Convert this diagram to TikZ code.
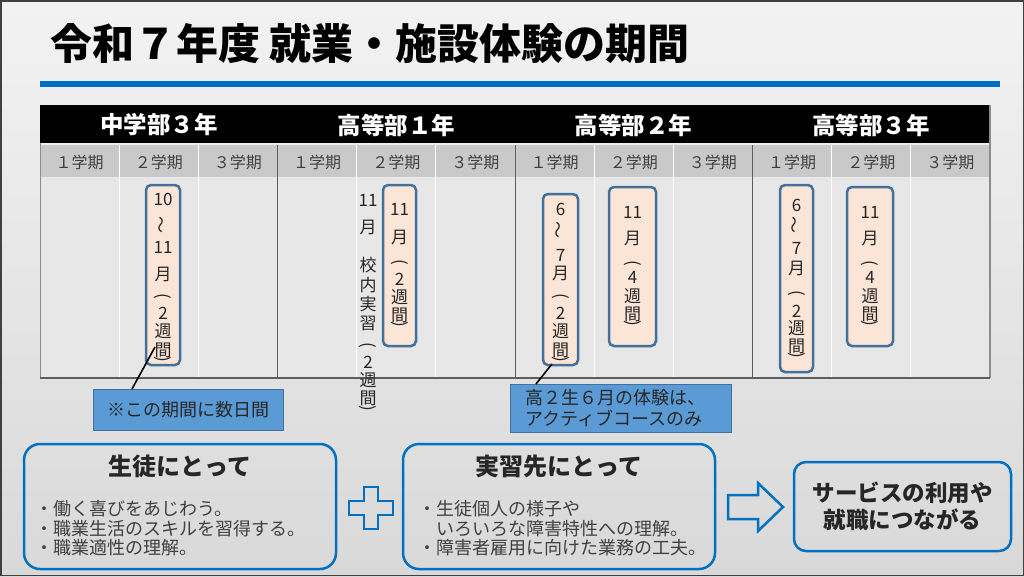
\documentclass[tikz,border=0pt]{standalone}
\usepackage{fontspec}
\setmainfont{Noto Sans CJK JP}
\definecolor{bluemain}{HTML}{0070C0}
\definecolor{boxedge}{HTML}{41719C}
\definecolor{boxfill}{HTML}{FBE5D6}
\definecolor{notefill}{HTML}{5B9BD5}
\definecolor{txt}{HTML}{262626}
\definecolor{semtxt}{HTML}{404040}
\definecolor{semfill}{HTML}{C9C9C9}
\definecolor{bodyfill}{HTML}{E7E7E7}
\definecolor{yearline}{HTML}{5E5E5E}
\definecolor{edgegray}{HTML}{8C8C8C}
\newcommand\vlp{\rotatebox[origin=c]{-90}{(}}
\newcommand\vrp{\rotatebox[origin=c]{-90}{)}}
\newcommand\vwv{\rotatebox[origin=c]{90}{～}}
\newcommand\vstack[3]{\foreach \yy/\cc [count=\k] in {#3}{\node[vch] (#1-\k) at (#2,\yy) {\cc};}}
\begin{document}
\begin{tikzpicture}[x=1pt,y=-1pt,
  vch/.style={inner sep=0pt, text=txt, font=\fontsize{17}{17}\selectfont},
  vbox/.style={draw=boxedge, line width=2.5pt, fill=boxfill, rounded corners=5pt, inner sep=0pt},
  yearlbl/.style={text=white, font=\fontsize{23.5}{23.5}\selectfont\bfseries, inner sep=0pt},
  semlbl/.style={text=semtxt, font=\fontsize{16}{16}\selectfont, inner sep=0pt},
  notebox/.style={draw=boxedge, line width=0.6pt, fill=notefill, inner sep=0pt},
  notetxt/.style={text=txt, font=\fontsize{18}{20}\selectfont, inner sep=0pt},
  bigbox/.style={draw=bluemain, line width=2.5pt, rounded corners=16pt, inner sep=0pt},
  boxtitle/.style={text=txt, font=\fontsize{24}{24}\selectfont\bfseries, inner sep=0pt},
  bullet/.style={text=semtxt, font=\fontsize{18}{18}\selectfont, inner sep=0pt, anchor=west},
  callline/.style={draw=black, line width=1.6pt}
]
\useasboundingbox (0,0) rectangle (1024,576);
\shade[top color=white!95!black, bottom color=white!85!black] (0,0) rectangle (1024,576);
\draw[draw=black!75, line width=1.5pt] (0.75,0.75) rectangle (1023.25,575.25);

% title
\node[anchor=west, inner sep=0pt, text=black, font=\fontsize{42}{42}\selectfont\bfseries] (title) at (50,44) {令和７年度 就業・施設体験の期間};
\fill[bluemain] (40,81) rectangle (1000,87);

% table
\fill[black] (40,105) rectangle (990,143);
\fill[semfill] (40,145) rectangle (990,177);
\fill[bodyfill] (40,178) rectangle (990,378);
\foreach \i in {1,2,4,5,7,8,10,11}{
  \draw[white, line width=1pt] ({40+950/12*\i},145) -- ({40+950/12*\i},378);
}
\foreach \i in {3,6,9}{
  \draw[yearline, line width=1pt] ({40+950/12*\i},145) -- ({40+950/12*\i},378);
}
\draw[edgegray, line width=1pt] (40,143) -- (40,378);
\draw[edgegray, line width=1.2pt] (990,105) -- (990,378);
\draw[yearline, line width=1.2pt] (40,378) -- (990,378);

\node[yearlbl] (y1) at (159,125) {中学部３年};
\node[yearlbl] (y2) at (396.5,125) {高等部１年};
\node[yearlbl] (y3) at (633.5,125) {高等部２年};
\node[yearlbl] (y4) at (871,125) {高等部３年};

\foreach \i/\d in {0/１,1/２,2/３,3/１,4/２,5/３,6/１,7/２,8/３,9/１,10/２,11/３}{
  \node[semlbl] (sem\i) at ({40+950/12*(\i+0.5)},162) {\d 学期};
}

% period boxes
\node[vbox, minimum width=34pt, minimum height=180pt] (boxA) at (163,275) {};
\node[vbox, minimum width=33pt, minimum height=161pt] (boxB) at (399.5,265.5) {};
\node[vbox, minimum width=35pt, minimum height=171pt] (boxC) at (560.5,279.5) {};
\node[vbox, minimum width=47pt, minimum height=159pt] (boxD) at (632.5,266.5) {};
\node[vbox, minimum width=33pt, minimum height=187pt] (boxE) at (796.5,278.5) {};
\node[vbox, minimum width=46pt, minimum height=159pt] (boxF) at (870,266.5) {};

\vstack{tA}{163}{199/10, 225/\vwv, 247/11, 274/月, 298/\vlp, 313/2, 331/週, 350/間, 361/\vrp}
\vstack{tO}{368}{200/11, 227/月, 265/校, 285/内, 304/実, 323/習, 347/\vlp, 362/2, 380/週, 398/間, 410/\vrp}
\vstack{tB}{399.5}{209/11, 237/月, 264/\vlp, 279/2, 297/週, 315/間, 326/\vrp}
\vstack{tC}{560.5}{209/6, 230/\vwv, 255/7, 273/月, 298/\vlp, 313/2, 331/週, 350/間, 361/\vrp}
\vstack{tD}{632.5}{212/11, 238/月, 265/\vlp, 277/4, 296/週, 314/間, 325/\vrp}
\vstack{tE}{796.5}{205/6, 225/\vwv, 248/7, 268/月, 295/\vlp, 311/2, 328/週, 346/間, 357/\vrp}
\vstack{tF}{870}{212/11, 238/月, 265/\vlp, 277/4, 296/週, 314/間, 325/\vrp}

% notes
\node[notebox, minimum width=190pt, minimum height=41pt] (note1) at (188,409.5) {};
\node[notetxt] (note1t) at (188,409.5) {※この期間に数日間};
\node[notebox, minimum width=221pt, minimum height=48pt] (note2) at (620.5,408) {};
\node[notetxt, anchor=west] (note2a) at (525,398) {高２生６月の体験は、};
\node[notetxt, anchor=west] (note2b) at (525,418) {アクティブコースのみ};
\coordinate (c1base) at (132,389);
\coordinate (c1tip) at (155,347);
\coordinate (c2base) at (536,384);
\coordinate (c2tip) at (552,364);
\draw[callline] (c1base) -- (c1tip);
\draw[callline] (c2base) -- (c2tip);

% bottom boxes
\node[bigbox, minimum width=312pt, minimum height=125pt] (student) at (180,506.5) {};
\node[boxtitle] (studentT) at (180,466) {生徒にとって};
\node[bullet] (s1) at (35,509) {・働く喜びをあじわう。};
\node[bullet] (s2) at (35,529) {・職業生活のスキルを習得する。};
\node[bullet] (s3) at (35,548) {・職業適性の理解。};

\draw[bluemain, line width=2.5pt, line join=miter]
  (364,487) -- (378,487) -- (378,501) -- (393,501) -- (393,515) -- (378,515) -- (378,529)
  -- (364,529) -- (364,515) -- (349,515) -- (349,501) -- (364,501) -- cycle;

\node[bigbox, minimum width=312pt, minimum height=125pt] (site) at (559,506.5) {};
\node[boxtitle] (siteT) at (559,466) {実習先にとって};
\node[bullet] (p1) at (418,509) {・生徒個人の様子や};
\node[bullet] (p2) at (418,529) {　いろいろな障害特性への理解。};
\node[bullet] (p3) at (418,548) {・障害者雇用に向けた業務の工夫。};

\draw[bluemain, line width=2.5pt, line join=miter]
  (728,495) -- (758,495) -- (758,483) -- (783,507) -- (758,531) -- (758,519) -- (728,519) -- cycle;

\node[bigbox, rounded corners=12pt, minimum width=217pt, minimum height=89pt] (result) at (902.5,506.5) {};
\node[text=txt, font=\fontsize{22.5}{27}\selectfont\bfseries, align=center, inner sep=0pt] (resultT) at (902.5,506) {サービスの利用や\\就職につながる};
\end{tikzpicture}
\end{document}
